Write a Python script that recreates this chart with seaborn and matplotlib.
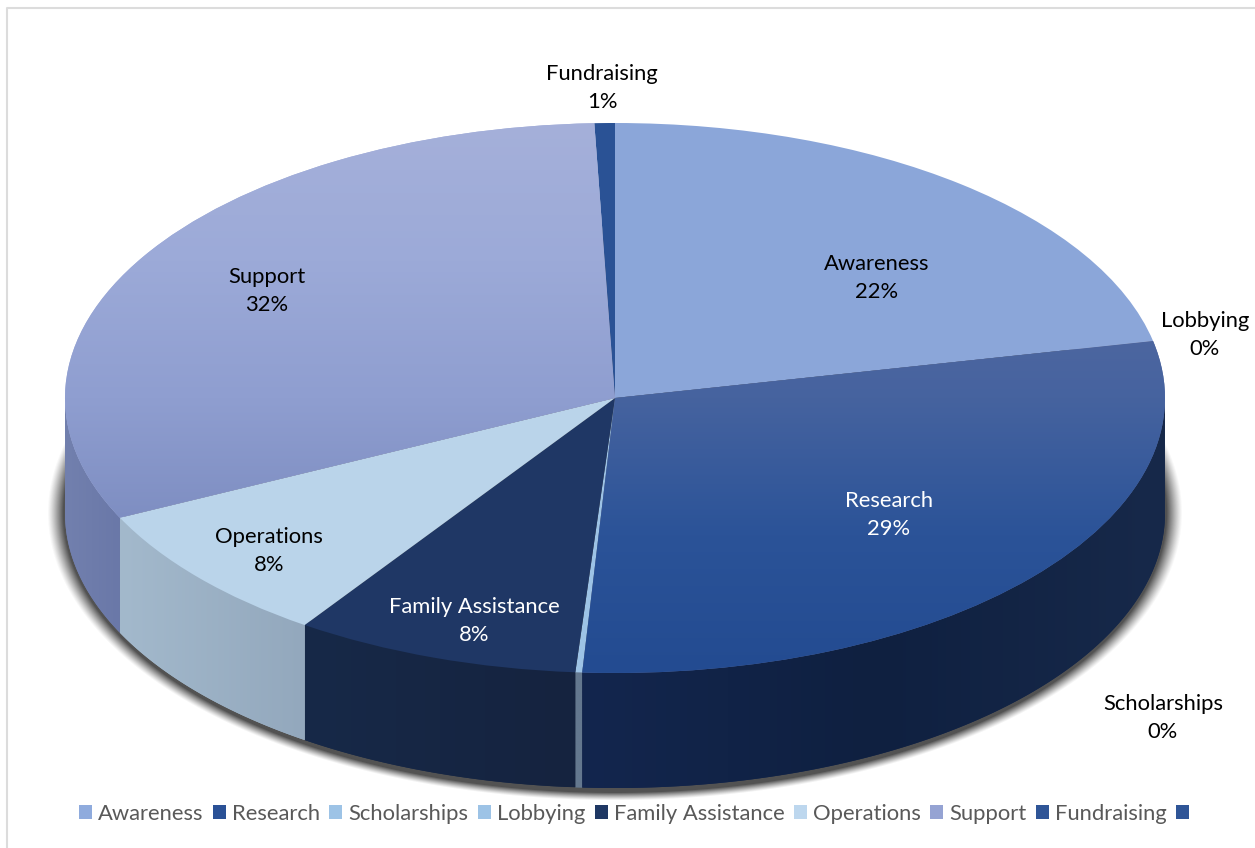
import numpy as np
import matplotlib
matplotlib.use("Agg")
import matplotlib.pyplot as plt
from matplotlib.colors import to_rgb
from matplotlib.patches import Patch, Polygon
import seaborn as sns

# ---- data ----
categories = ["Awareness", "Research", "Scholarships", "Lobbying",
              "Family Assistance", "Operations", "Support", "Fundraising"]
shares = [21.7, 29.3, 0.2, 0.0, 8.4, 8.3, 31.6, 0.6]

# ---- styles ----
top_stops = [
    ["#8ba6d9", "#8ba6d9"],
    ["#5a6ea2", "#556aa0", "#46639f", "#2b5398", "#234b91"],
    ["#9dc3e6", "#9dc3e6"],
    ["#9dc3e6", "#9dc3e6"],
    ["#1f3765", "#1f3765"],
    ["#bad4ea", "#bad4ea"],
    ["#a5b0da", "#9caad8", "#8f9ed0", "#7c8cc0", "#7c8cc0"],
    ["#2a5295", "#2a5295"],
]
wall_stops = [
    ["#6d84ad", "#6d84ad"],
    ["#13264e", "#0f2040", "#17294a"],
    ["#64788f", "#64788f"],
    ["#7d9bb8", "#7d9bb8"],
    ["#172948", "#15233f"],
    ["#a3b9cc", "#93a8bd"],
    ["#7280ae", "#6a78a8"],
    ["#1f3d70", "#1f3d70"],
]
legend_colors = ["#8fabdd", "#2a5196", "#9dc3e6", "#9dc3e6", "#1f3864",
                 "#bdd7ee", "#95a3d3", "#2f5597", "#2f5597"]
label_px = [(877, 278), (889, 515), (1163, 718), (1205, 335),
            (474, 621), (269, 551), (267, 291), (602, 88)]
label_colors = ["black", "white", "black", "black", "white", "black", "black", "black"]

CX, CY, RX, RY, DEPTH = 615.0, 398.0, 550.0, 275.0, 115.0 / 275.0
W, H = 1255, 848


def px(x, y):
    return (x - CX) / RX, (CY - y) / RY


def gradient(stops, vertical):
    rgb = np.array([to_rgb(c) for c in stops])
    t = np.linspace(0, 1, 256)
    pos = np.linspace(0, 1, len(stops))
    arr = np.stack([np.interp(t, pos, rgb[:, i]) for i in range(3)], axis=-1)
    return arr[:, None, :] if vertical else arr[None, :, :]


sns.set_theme(style="white")
plt.rcParams["font.family"] = ["Lato", "DejaVu Sans"]

fig = plt.figure(figsize=(W / 100, H / 100), dpi=100, facecolor="white")
ax = fig.add_axes([0, 0, 1, 1])

wedges, _ = ax.pie(shares, colors=sns.color_palette([s[0] for s in top_stops]),
                   startangle=90, counterclock=False, radius=1.0, frame=True,
                   wedgeprops=dict(linewidth=0))
ax.set_aspect("auto")
x0, y1 = px(0, 0)
x1, y0 = px(W, H)

# soft shadow under the pie
gx = np.linspace(x0, x1, W)
gy = np.linspace(y1, y0, H)
xx, yy = np.meshgrid(gx, gy)
dist = np.sqrt(((xx * RX) / 568.0) ** 2 + (((yy + DEPTH) * RY) / 288.0) ** 2)
alpha = np.clip((1.0 - dist) / 0.028, 0, 1) ** 1.2 * 0.85
shadow = np.zeros(xx.shape + (4,))
shadow[..., 3] = alpha
shadow[..., :3] = 0.2
ax.imshow(shadow, extent=(x0, x1, y0, y1), aspect="auto", zorder=0.5, interpolation="bilinear")

# side walls and shaded top faces
for w, tops, walls in zip(wedges, top_stops, wall_stops):
    ts = np.radians(np.linspace(w.theta1, w.theta2, 300))
    ts = ts[np.sin(ts) <= 0]
    if len(ts) > 1 and w.theta2 > w.theta1:
        xs, ys = np.cos(ts), np.sin(ts)
        pts = np.r_[np.c_[xs, ys + 0.02], np.c_[xs, ys - DEPTH][::-1]]
        poly = Polygon(pts, closed=True, facecolor=walls[0], edgecolor="none", zorder=1)
        ax.add_patch(poly)
        im = ax.imshow(gradient(walls, False), aspect="auto", zorder=1.1,
                       extent=(xs.min(), xs.max(), (ys - DEPTH).min(), ys.max()),
                       interpolation="bilinear")
        im.set_clip_path(poly)
    w.set_zorder(2)
    if len(set(tops)) > 1:
        im = ax.imshow(gradient(tops, True), aspect="auto", zorder=2.1,
                       extent=(-1, 1, -1, 1), interpolation="bilinear")
        im.set_clip_path(w)

# data labels
for name, share, (lx, ly), col in zip(categories, shares, label_px, label_colors):
    tx, ty = px(lx, ly)
    ax.text(tx, ty, f"{name}\n{share:.0f}%", ha="center", va="center", color=col,
            fontsize=15.8, linespacing=1.52, zorder=5)

# legend (ninth key has no text in the source)
handles = [Patch(facecolor=c, edgecolor="none") for c in legend_colors]
labels = categories + [""]
ax.legend(handles, labels, ncol=9, loc="center", bbox_to_anchor=(637 / W, 1 - 814 / H),
          frameon=False, fontsize=15.8, labelcolor="#595959", handlelength=0.6,
          handleheight=0.6, handletextpad=0.28, columnspacing=0.415, borderpad=0)

# chart frame
ax.set_xlim(x0, x1)
ax.set_ylim(y0, y1)
ax.axis("off")
ax.plot(*zip(px(7, H), px(7, 8), px(W, 8)), color="#dcdcdc", lw=1.5, zorder=6)
ax.set_xlim(x0, x1)
ax.set_ylim(y0, y1)

fig.savefig("out.png", dpi=100, facecolor="white")
